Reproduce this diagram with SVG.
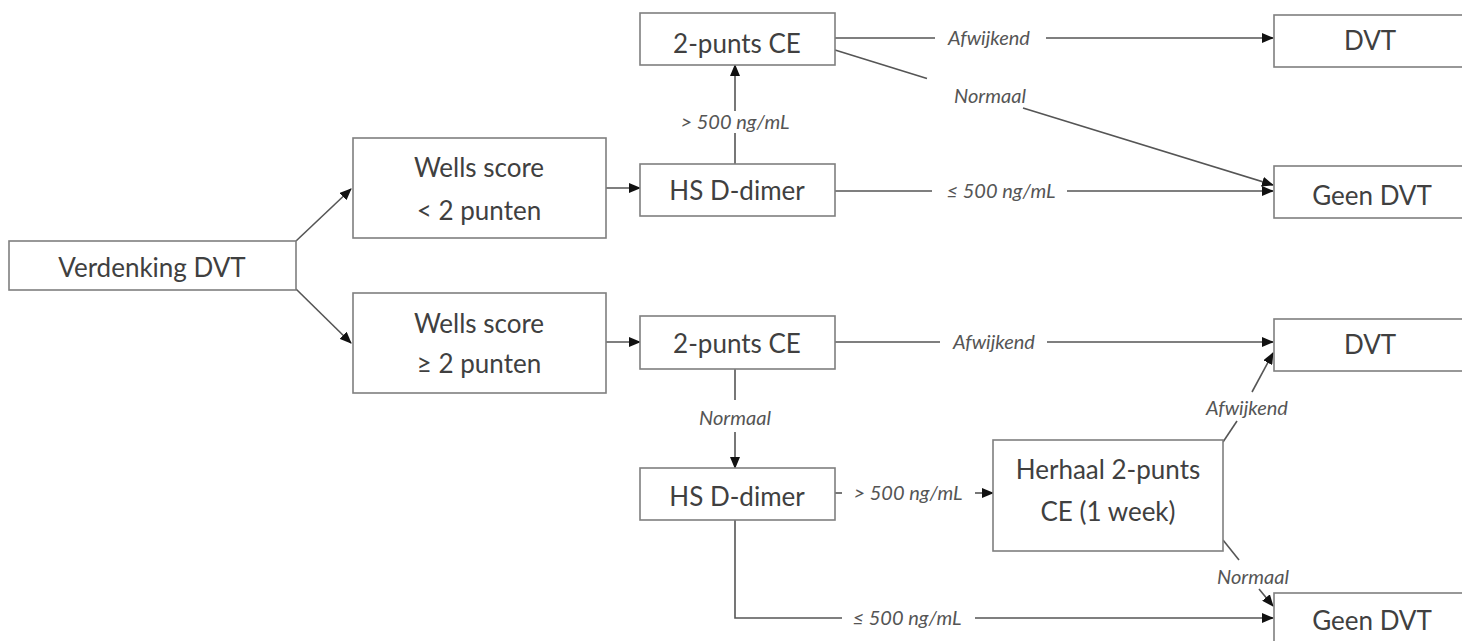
<svg xmlns="http://www.w3.org/2000/svg" width="1462" height="641" viewBox="0 0 1462 641">
<style>
.box{fill:#fff;stroke:#7f7f7f;stroke-width:1.6}
.t{font-family:Lato,"Open Sans",sans-serif;font-size:26px;fill:#404040;text-anchor:middle}
.c{fill:none;stroke:#555;stroke-width:1.6}
.l{font-family:Lato,"Open Sans",sans-serif;font-style:italic;font-size:20px;fill:#555;text-anchor:middle}
</style>
<defs>
<marker id="a" markerUnits="userSpaceOnUse" markerWidth="12" markerHeight="10" refX="11" refY="5" orient="auto">
<path d="M0,0 L12,5 L0,10 Z" fill="#111"/>
</marker>
</defs>
<rect width="1462" height="641" fill="#fff"/>
<g id="connectors">
<path class="c" d="M296,241 L351,189" marker-end="url(#a)"/>
<path class="c" d="M296,289 L351,343" marker-end="url(#a)"/>
<path class="c" d="M606,188 L640,188" marker-end="url(#a)"/>
<path class="c" d="M606,342 L640,342" marker-end="url(#a)"/>
<path class="c" d="M735,164 L735,133"/>
<path class="c" d="M735,111 L735,65" marker-end="url(#a)"/>
<text class="l" x="735" y="129">&gt; 500 ng/mL</text>
<path class="c" d="M835,38 L935,38"/>
<path class="c" d="M1046,38 L1273,38" marker-end="url(#a)"/>
<text class="l" x="989" y="45">Afwijkend</text>
<path class="c" d="M835,50 L927,78.4"/>
<path class="c" d="M1023,108 L1273,185" marker-end="url(#a)"/>
<text class="l" x="990" y="103">Normaal</text>
<path class="c" d="M835,191 L932,191"/>
<path class="c" d="M1067,191 L1273,191" marker-end="url(#a)"/>
<text class="l" x="1001" y="198">≤ 500 ng/mL</text>
<path class="c" d="M835,342 L940,342"/>
<path class="c" d="M1047,342 L1273,342" marker-end="url(#a)"/>
<text class="l" x="994" y="349">Afwijkend</text>
<path class="c" d="M735,369 L735,400"/>
<path class="c" d="M735,432 L735,468" marker-end="url(#a)"/>
<text class="l" x="735" y="425">Normaal</text>
<path class="c" d="M835,493 L842,493"/>
<path class="c" d="M975,493 L993,493" marker-end="url(#a)"/>
<text class="l" x="908" y="500">&gt; 500 ng/mL</text>
<path class="c" d="M735,520 L735,618 L842,618"/>
<path class="c" d="M975,618 L1273,618" marker-end="url(#a)"/>
<text class="l" x="907" y="625">≤ 500 ng/mL</text>
<path class="c" d="M1223,442 L1237,421"/>
<path class="c" d="M1252,392 L1273,353" marker-end="url(#a)"/>
<text class="l" x="1247" y="415">Afwijkend</text>
<path class="c" d="M1223,540 L1239,560"/>
<path class="c" d="M1259,589 L1273,606" marker-end="url(#a)"/>
<text class="l" x="1253" y="584">Normaal</text>
</g>
<g id="verdenking"><rect class="box" x="9" y="241" width="287" height="49"/><text class="t" x="152" y="277">Verdenking DVT</text></g>
<g id="wells-low"><rect class="box" x="353" y="138" width="253" height="100"/><text class="t" x="479" y="177">Wells score</text><text class="t" x="479" y="220">&lt; 2 punten</text></g>
<g id="wells-high"><rect class="box" x="353" y="293" width="253" height="100"/><text class="t" x="479" y="333">Wells score</text><text class="t" x="479" y="373">≥ 2 punten</text></g>
<g id="ce-top"><rect class="box" x="640" y="13" width="195" height="52"/><text class="t" x="737" y="53">2-punts CE</text></g>
<g id="dimer-top"><rect class="box" x="640" y="164" width="195" height="52"/><text class="t" x="737" y="200">HS D-dimer</text></g>
<g id="dvt-top"><rect class="box" x="1274" y="15" width="196" height="52"/><text class="t" x="1370" y="50">DVT</text></g>
<g id="geen-top"><rect class="box" x="1274" y="166" width="196" height="52"/><text class="t" x="1372" y="205">Geen DVT</text></g>
<g id="ce-mid"><rect class="box" x="640" y="316" width="195" height="53"/><text class="t" x="737" y="353">2-punts CE</text></g>
<g id="dvt-mid"><rect class="box" x="1274" y="319" width="196" height="52"/><text class="t" x="1370" y="354">DVT</text></g>
<g id="dimer-bottom"><rect class="box" x="640" y="468" width="195" height="52"/><text class="t" x="737" y="506">HS D-dimer</text></g>
<g id="herhaal"><rect class="box" x="993" y="440" width="230" height="111"/><text class="t" x="1108" y="479">Herhaal 2-punts</text><text class="t" x="1108" y="521">CE (1 week)</text></g>
<g id="geen-bottom"><rect class="box" x="1274" y="593" width="196" height="60"/><text class="t" x="1372" y="630">Geen DVT</text></g>
</svg>
